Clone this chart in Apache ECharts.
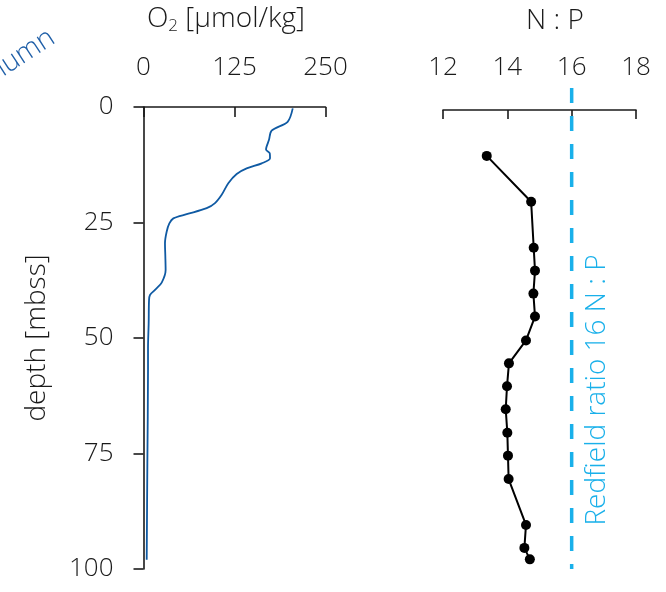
<!DOCTYPE html>
<html>
<head>
<meta charset="utf-8">
<script src="https://cdn.jsdelivr.net/npm/echarts@6/dist/echarts.min.js"></script>
<style>
  html, body { margin: 0; padding: 0; background: #fff; }
  #chart { width: 666px; height: 592px; }
</style>
</head>
<body>
<div id="chart"></div>
<script>
// O2 profile (umol/kg vs depth m)
const o2Values = [205, 198, 176, 172.4, 168.3, 173.4, 173.8, 162.4, 141.7, 128, 116.5, 107.4, 98.2, 86.8, 59.3, 41, 35.5, 31.8, 29.5, 30, 30.4, 25, 15.8, 8.9, 7.6, 7.1, 6.2, 6.2, 5.3, 4.4]
const o2Depths = [0.3, 3.2, 5.1, 7.1, 9.2, 10.0, 11.1, 12.2, 13.3, 14.5, 16.5, 19, 20.8, 21.9, 23.2, 24.1, 25.2, 27, 29.5, 32.4, 35.3, 38, 39.6, 40.7, 41.8, 46.8, 52.2, 56.9, 77.1, 98]

// N:P ratio samples
const npValues = [13.36, 14.74, 14.82, 14.86, 14.81, 14.86, 14.58, 14.05, 13.99, 13.95, 14.0, 14.02, 14.04, 14.58, 14.53, 14.70]
const npDepths = [10, 20, 30, 35, 40, 45, 50.2, 55.2, 60.2, 65.2, 70.3, 75.3, 80.4, 90.4, 95.4, 97.9]

const redfieldRatio = 16
const redfieldDepths = [-4.8, 100]

const o2Ticks = [0, 125, 250]
const npTicks = [12, 14, 16, 18]
const depthTicks = [0, 25, 50, 75, 100]

const font = '"Open Sans", "DejaVu Sans", sans-serif'
const ink = '#1a1a1a'
const lightBlue = '#19b0ea'

const chart = echarts.init(document.getElementById('chart'))

const axisLine = { show: true, lineStyle: { color: ink, width: 1.6 } }
const labelStyle = { color: ink, fontSize: 26, fontFamily: font, fontWeight: 300 }

chart.setOption({
  animation: false,
  grid: [
    { left: 143.5, top: 107, width: 182, height: 462 },
    { left: 443, top: 110, width: 193, height: 459 }
  ],
  xAxis: [
    {
      gridIndex: 0, type: 'value', position: 'top',
      min: o2Ticks[0], max: o2Ticks[o2Ticks.length - 1], interval: 125,
      axisLine: axisLine,
      axisTick: { show: true, inside: true, length: 10, lineStyle: { color: ink, width: 1.6 } },
      axisLabel: Object.assign({ margin: 26 }, labelStyle),
      splitLine: { show: false },
      name: 'O{sub|2} [µmol/kg]', nameLocation: 'middle', nameGap: 72,
      nameTextStyle: {
        color: ink, fontSize: 28, fontFamily: font, fontWeight: 300,
        padding: [0, 17, 0, 0],
        rich: { sub: { fontSize: 17, fontFamily: font, fontWeight: 300, color: ink, verticalAlign: 'bottom', padding: [14, 0, 0, 0] } }
      }
    },
    {
      gridIndex: 1, type: 'value', position: 'top',
      min: npTicks[0], max: npTicks[npTicks.length - 1], interval: 2,
      axisLine: axisLine,
      axisTick: { show: true, inside: true, length: 9, lineStyle: { color: ink, width: 1.6 } },
      axisLabel: Object.assign({ margin: 29 }, labelStyle),
      splitLine: { show: false },
      name: 'N : P', nameLocation: 'middle', nameGap: 75,
      nameTextStyle: { color: ink, fontSize: 28, fontFamily: font, fontWeight: 300, padding: [0, 0, 0, 31] }
    }
  ],
  yAxis: [
    {
      gridIndex: 0, type: 'value', inverse: true,
      min: depthTicks[0], max: depthTicks[depthTicks.length - 1], interval: 25,
      axisLine: axisLine,
      axisTick: { show: true, length: 10, lineStyle: { color: ink, width: 1.6 } },
      axisLabel: Object.assign({ margin: 30 }, labelStyle),
      splitLine: { show: false },
      name: 'depth [mbss]', nameLocation: 'middle', nameGap: 92, nameRotate: 90,
      nameTextStyle: { color: ink, fontSize: 28, fontFamily: font, fontWeight: 300 }
    },
    {
      gridIndex: 1, type: 'value', inverse: true,
      min: 0, max: 100,
      show: false
    }
  ],
  series: [
    {
      type: 'line', xAxisIndex: 0, yAxisIndex: 0,
      data: o2Values.map((v, i) => [v, o2Depths[i]]),
      smooth: 0.3, symbol: 'none',
      lineStyle: { color: '#0f5aa3', width: 1.8 }
    },
    {
      type: 'line', xAxisIndex: 1, yAxisIndex: 1,
      data: redfieldDepths.map(d => [redfieldRatio, d]),
      symbol: 'none', clip: false,
      lineStyle: { color: lightBlue, width: 3.5, type: [15, 13] }
    },
    {
      type: 'line', xAxisIndex: 1, yAxisIndex: 1,
      data: npValues.map((v, i) => [v, npDepths[i]]),
      symbol: 'circle', symbolSize: 10,
      itemStyle: { color: '#000' },
      lineStyle: { color: '#000', width: 2 }
    }
  ],
  graphic: [
    {
      type: 'text', x: 597, y: 390, rotation: Math.PI / 2,
      style: {
        text: 'Redfield ratio 16 N : P', fill: lightBlue,
        font: '300 28px ' + font, align: 'center', verticalAlign: 'middle'
      }
    },
    {
      type: 'text', x: 60, y: 47, rotation: 33 * Math.PI / 180,
      style: {
        text: 'Water column', fill: '#1f5fa8',
        font: '300 28px ' + font, align: 'right', verticalAlign: 'bottom'
      }
    }
  ]
})
</script>
</body>
</html>
